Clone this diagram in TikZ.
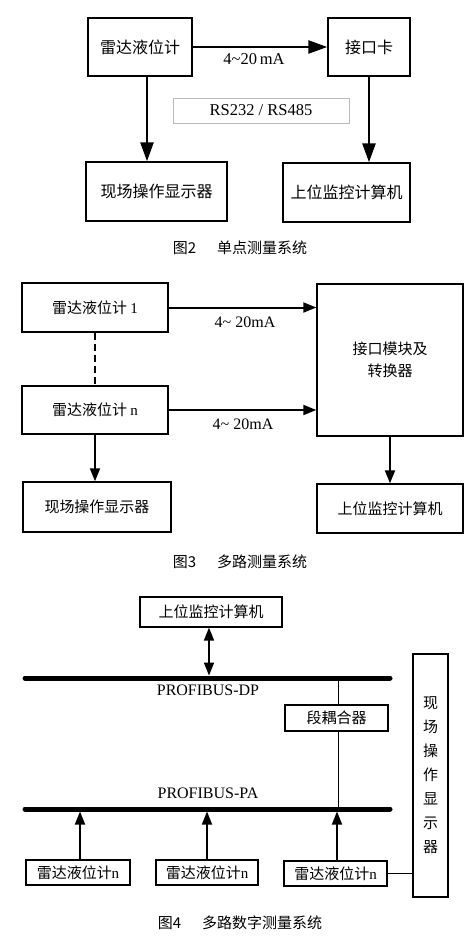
\documentclass[tikz,border=0pt]{standalone}
\usepackage{fontspec}
\setmainfont{Liberation Serif}
\newfontfamily\cjk{Noto Sans CJK SC}
\usetikzlibrary{arrows.meta}
\begin{document}
\begin{tikzpicture}[x=1pt,y=-1pt,
  box/.style={draw,line width=1.4pt,inner sep=0pt,align=center},
  tbox/.style={draw,line width=1.2pt,inner sep=0pt,align=center},
  bigarrow/.style={line width=2.5pt,-{Triangle[length=19pt,width=13pt]}},
  midarrow/.style={line width=2pt,-{Triangle[length=13pt,width=10pt]}},
  smallarrow/.style={line width=1.8pt,-{Triangle[length=13pt,width=10pt]}},
  bus/.style={line width=5pt,line cap=round},
  thinline/.style={line width=0.9pt},
  fa/.style={font=\cjk\fontsize{16}{19}\selectfont},
  fb/.style={font=\cjk\fontsize{15}{22}\selectfont},
  lab/.style={font=\fontsize{16.5}{19}\selectfont},
  labb/.style={font=\fontsize{16}{19}\selectfont},
  captext/.style={font=\cjk\fontsize{15}{18}\selectfont}]
\useasboundingbox (0,0) rectangle (472,938);
\fill[white] (0,0) rectangle (472,938);
% ---------------- Figure 2 ----------------
\node[box,fa,minimum width=104pt,minimum height=58pt] (r1) at (140,47) {雷达液位计};
\node[box,fa,minimum width=82pt,minimum height=58pt] (k1) at (369,47) {接口卡};
\node[draw=gray!55,line width=0.8pt,inner sep=0pt,minimum width=176pt,minimum height=25pt,lab] (rs) at (261,110.5) {RS232 / RS485};
\node[box,fa,minimum width=141pt,minimum height=59pt] (x1) at (156.5,191.5) {现场操作显示器};
\node[box,fa,minimum width=127pt,minimum height=59pt] (s1) at (346.5,192.5) {上位监控计算机};
\coordinate (c147) at (147,0);
\draw[bigarrow] (r1.east) -- (k1.west);
\node[lab] (l1) at (254,59) {4\textasciitilde20\,mA};
\draw[bigarrow] (r1.south -| c147) -- (x1.north -| c147);
\draw[bigarrow] (k1.south) -- (k1.south |- s1.north);
\node[captext] (cap2) at (240,248) {图2\hspace{1.4em}单点测量系统};
% ---------------- Figure 3 ----------------
\node[box,fb,minimum width=146pt,minimum height=49pt] (ra) at (95,307.5) {雷达液位计 {\rmfamily 1}};
\node[box,fb,minimum width=146pt,minimum height=48pt] (rn) at (95,410) {雷达液位计 {\rmfamily n}};
\node[box,fb,minimum width=146pt,minimum height=152pt] (jk) at (390,360) {接口模块及\\转换器};
\node[box,fb,minimum width=148pt,minimum height=50pt] (xs) at (97,507) {现场操作显示器};
\node[box,fb,minimum width=146pt,minimum height=49pt] (sj) at (390,508.5) {上位监控计算机};
\draw[midarrow] (ra.east) -- (ra.east -| jk.west);
\draw[midarrow] (rn.east) -- (rn.east -| jk.west);
\node[labb] (l2) at (245,322) {4\textasciitilde\ 20mA};
\node[labb] (l3) at (243,424) {4\textasciitilde\ 20mA};
\draw[line width=2.2pt,dash pattern=on 7pt off 4pt] (ra.south) -- (rn.north);
\draw[midarrow] (rn.south) -- (rn.south |- xs.north);
\draw[midarrow] (jk.south) -- (sj.north);
\node[captext] (cap3) at (240,562) {图3\hspace{1.4em}多路测量系统};
% ---------------- Figure 4 ----------------
\node[tbox,fb,minimum width=142pt,minimum height=30pt] (sw) at (211,612) {上位监控计算机};
\coordinate (dpl) at (25,678);
\coordinate (dpr) at (390,678);
\coordinate (pal) at (25,809);
\coordinate (par) at (390,809);
\draw[bus] (dpl) -- (dpr);
\draw[bus] (pal) -- (par);
\coordinate (dpa) at (209,675.5);
\draw[line width=1.8pt,{Triangle[length=13pt,width=10pt]}-{Triangle[length=13pt,width=10pt]}] (sw.south -| dpa) -- (dpa);
\node[labb] (ldp) at (208,690) {PROFIBUS-DP};
\node[labb] (lpa) at (208,793) {PROFIBUS-PA};
\node[tbox,fb,minimum width=103pt,minimum height=26pt] (dd) at (336.5,718) {段耦合器};
\coordinate (dpx) at (338,678);
\coordinate (pax) at (338,809);
\draw[thinline] (dpx) -- (dpx |- dd.north);
\draw[thinline] (pax |- dd.south) -- (pax);
\node[tbox,fb,minimum width=104pt,minimum height=25pt] (b1) at (78,872.5) {雷达液位计{\rmfamily n}};
\node[tbox,fb,minimum width=102pt,minimum height=25pt] (b2) at (207,872.5) {雷达液位计{\rmfamily n}};
\node[tbox,fb,minimum width=103pt,minimum height=25pt] (b3) at (335.5,873.5) {雷达液位计{\rmfamily n}};
\coordinate (p1) at (80,811.5);
\coordinate (p2) at (207,811.5);
\coordinate (p3) at (337,811.5);
\draw[smallarrow] (b1.north -| p1) -- (p1);
\draw[smallarrow] (b2.north -| p2) -- (p2);
\draw[smallarrow] (b3.north -| p3) -- (p3);
\node[tbox,fb,minimum width=35pt,minimum height=243pt] (xv) at (430.5,775.5) {现\\[2pt]场\\[2pt]操\\[2pt]作\\[2pt]显\\[2pt]示\\[2pt]器};
\draw[thinline] (b3.east) -- (b3.east -| xv.west);
\node[captext] (cap4) at (240,923) {图4\hspace{1.4em}多路数字测量系统};
\end{tikzpicture}
\end{document}
